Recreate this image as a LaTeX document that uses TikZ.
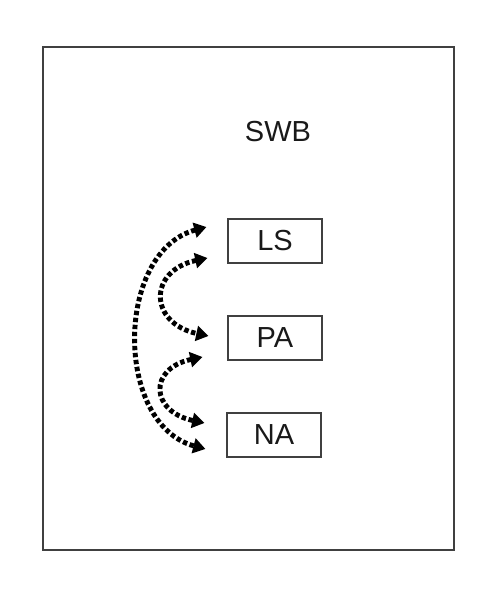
\documentclass[tikz,border=0pt]{standalone}
\usepackage{fontspec}
\setmainfont{Liberation Sans}
\usetikzlibrary{arrows.meta,positioning}

\begin{document}
\begin{tikzpicture}[
    scalebox/.style={draw=black!75, line width=0.6pt, minimum width=1.88cm, minimum height=0.88cm, text=black!90, font=\fontsize{16.5}{19}\selectfont},
    link/.style={line width=2.8pt, dash pattern=on 2.5pt off 1.5pt, {Triangle[length=7pt,width=8.5pt]}-{Triangle[length=7pt,width=8.5pt]}}
]
    \useasboundingbox (0,0) rectangle (10,12);

    % --- Outer frame ---
    \draw[line width=0.7pt, black!75] (0.86,1.0) rectangle (9.08,11.06);
    \node[text=black!90, font=\fontsize{16.5}{19}\selectfont] (swb) at (5.56,9.36) {SWB};

    % --- Scales ---
    \node[scalebox] (ls) at (5.5,7.18) {LS};
    \node[scalebox] (pa) at (5.5,5.24) {PA};
    \node[scalebox] (na) at (5.48,3.3) {NA};

    % end points of the arcs
    \coordinate (ls-a) at ([shift={(-0.42,0.28)}]ls.west);
    \coordinate (ls-b) at ([shift={(-0.40,-0.34)}]ls.west);
    \coordinate (pa-a) at ([shift={(-0.38,0.04)}]pa.west);
    \coordinate (pa-b) at ([shift={(-0.50,-0.38)}]pa.west);
    \coordinate (na-a) at ([shift={(-0.44,0.24)}]na.west);
    \coordinate (na-b) at ([shift={(-0.42,-0.28)}]na.west);

    % --- Links ---
    \draw[link] (ls-a) to[out=195, in=165, looseness=1.09] (na-b);
    \draw[link] (ls-b) to[out=192, in=168, looseness=2.0] (pa-a);
    \draw[link] (pa-b) to[out=192, in=168, looseness=2.15] (na-a);
\end{tikzpicture}
\end{document}
